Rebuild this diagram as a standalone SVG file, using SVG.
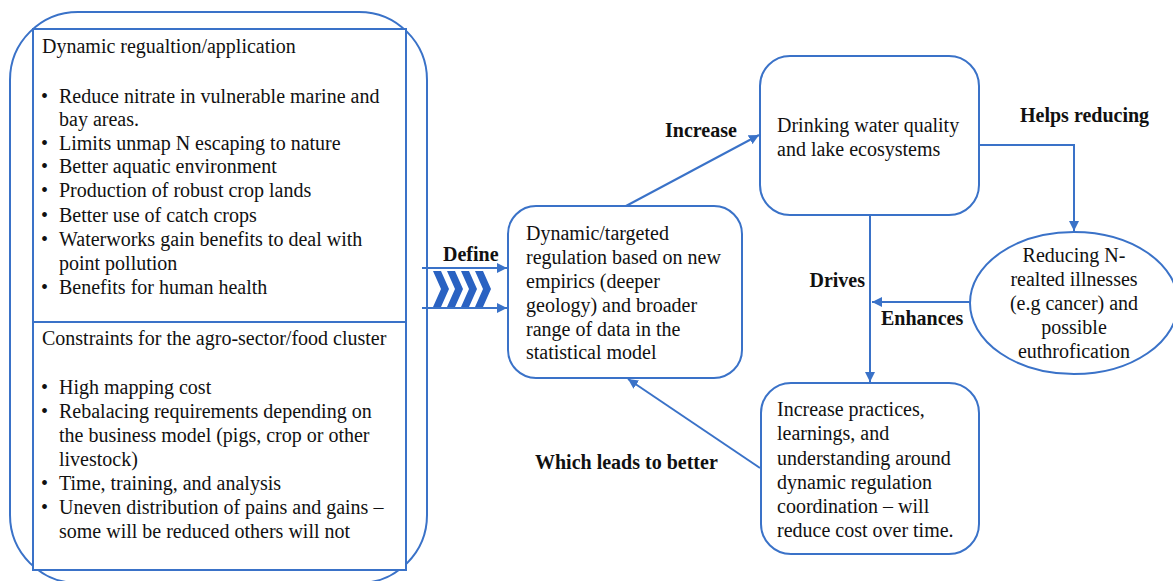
<svg xmlns="http://www.w3.org/2000/svg" width="1173" height="581" viewBox="0 0 1173 581">
<style>
.t{font-family:"Liberation Serif","Times New Roman",serif;font-size:20px;fill:#111}
.b{font-family:"Liberation Serif","Times New Roman",serif;font-size:20px;font-weight:bold;fill:#111}
.box{fill:#fff;stroke:#3a72c8;stroke-width:2}
.ln{fill:none;stroke:#3a72c8;stroke-width:2}
.chev{fill:#2a62c2}
</style>
<defs>
<marker id="ah" viewBox="0 0 10 10" refX="10" refY="5" markerWidth="5" markerHeight="5" orient="auto" markerUnits="strokeWidth">
<path d="M0,0 L10,5 L0,10 z" fill="#3a72c8"/>
</marker>
</defs>
<rect width="1173" height="581" fill="#fff"/>
<g id="left-panel">
<rect class="box" x="10" y="12" width="417" height="571" rx="68" ry="68"/>
<rect class="box" x="33" y="29" width="373" height="541"/>
<line class="ln" x1="33" y1="322" x2="406" y2="322"/>
<text class="t" x="42" y="53">Dynamic regualtion/application</text>
<g class="t">
<text x="41" y="103">•</text><text x="59" y="103">Reduce nitrate in vulnerable marine and</text>
<text x="59" y="126">bay areas.</text>
<text x="41" y="150">•</text><text x="59" y="150">Limits unmap N escaping to nature</text>
<text x="41" y="173">•</text><text x="59" y="173">Better aquatic environment</text>
<text x="41" y="197">•</text><text x="59" y="197">Production of robust crop lands</text>
<text x="41" y="222">•</text><text x="59" y="222">Better use of catch crops</text>
<text x="41" y="246">•</text><text x="59" y="246">Waterworks gain benefits to deal with</text>
<text x="59" y="270">point pollution</text>
<text x="41" y="294">•</text><text x="59" y="294">Benefits for human health</text>
</g>
<text class="t" x="42" y="345">Constraints for the agro-sector/food cluster</text>
<g class="t">
<text x="41" y="394">•</text><text x="59" y="394">High mapping cost</text>
<text x="41" y="418">•</text><text x="59" y="418">Rebalacing requirements depending on</text>
<text x="59" y="442">the business model (pigs, crop or other</text>
<text x="59" y="466">livestock)</text>
<text x="41" y="490">•</text><text x="59" y="490">Time, training, and analysis</text>
<text x="41" y="514">•</text><text x="59" y="514">Uneven distribution of pains and gains –</text>
<text x="59" y="538">some will be reduced others will not</text>
</g>
</g>
<g id="define-chevrons">
<polygon class="chev" points="433,271 441,271 449,289 441,307 433,307 441,289"/>
<polygon class="chev" points="447,271 455,271 463,289 455,307 447,307 455,289"/>
<polygon class="chev" points="461,271 469,271 477,289 469,307 461,307 469,289"/>
<polygon class="chev" points="475,271 483,271 491,289 483,307 475,307 483,289"/>
</g>
<g id="middle">
<rect class="box" x="508" y="206" width="234" height="172" rx="28" ry="28"/>
<g class="t">
<text x="526" y="240">Dynamic/targeted</text>
<text x="526" y="264">regulation based on new</text>
<text x="526" y="288">empirics (deeper</text>
<text x="526" y="312">geology) and broader</text>
<text x="526" y="336">range of data in the</text>
<text x="526" y="359">statistical model</text>
</g>
</g>
<g id="drinking">
<rect class="box" x="760" y="56" width="219" height="159" rx="30" ry="30"/>
<text class="t" x="777" y="132">Drinking water quality</text>
<text class="t" x="777" y="156">and lake ecosystems</text>
</g>
<g id="illnesses">
<ellipse class="box" cx="1074" cy="303" rx="104" ry="71"/>
<g class="t" text-anchor="middle">
<text x="1074" y="262">Reducing N-</text>
<text x="1074" y="286">realted illnesses</text>
<text x="1074" y="310">(e.g cancer) and</text>
<text x="1074" y="334">possible</text>
<text x="1074" y="358">euthrofication</text>
</g>
</g>
<g id="practices">
<rect class="box" x="761" y="383" width="218" height="171" rx="30" ry="30"/>
<g class="t">
<text x="777" y="416">Increase practices,</text>
<text x="777" y="440">learnings, and</text>
<text x="777" y="465">understanding around</text>
<text x="777" y="489">dynamic regulation</text>
<text x="777" y="513">coordination – will</text>
<text x="777" y="537">reduce cost over time.</text>
</g>
</g>
<g id="connectors">
<line class="ln" x1="422" y1="268" x2="507" y2="268" stroke-width="1.2" marker-end="url(#ah)"/>
<line class="ln" x1="422" y1="308" x2="507" y2="308" stroke-width="1.2" marker-end="url(#ah)"/>
<line class="ln" x1="626" y1="206" x2="759" y2="135" marker-end="url(#ah)"/>
<polyline class="ln" points="979,145 1074,145 1074,231" marker-end="url(#ah)"/>
<line class="ln" x1="870" y1="215" x2="870" y2="382" marker-end="url(#ah)"/>
<line class="ln" x1="970" y1="302" x2="872" y2="302" marker-end="url(#ah)"/>
<line class="ln" x1="760" y1="468" x2="628" y2="379" marker-end="url(#ah)"/>
<text class="b" x="443" y="261">Define</text>
<text class="b" x="665" y="137">Increase</text>
<text class="b" x="1020" y="122">Helps reducing</text>
<text class="b" x="865" y="287" text-anchor="end">Drives</text>
<text class="b" x="881" y="325">Enhances</text>
<text class="b" x="535" y="469">Which leads to better</text>
</g>
</svg>
